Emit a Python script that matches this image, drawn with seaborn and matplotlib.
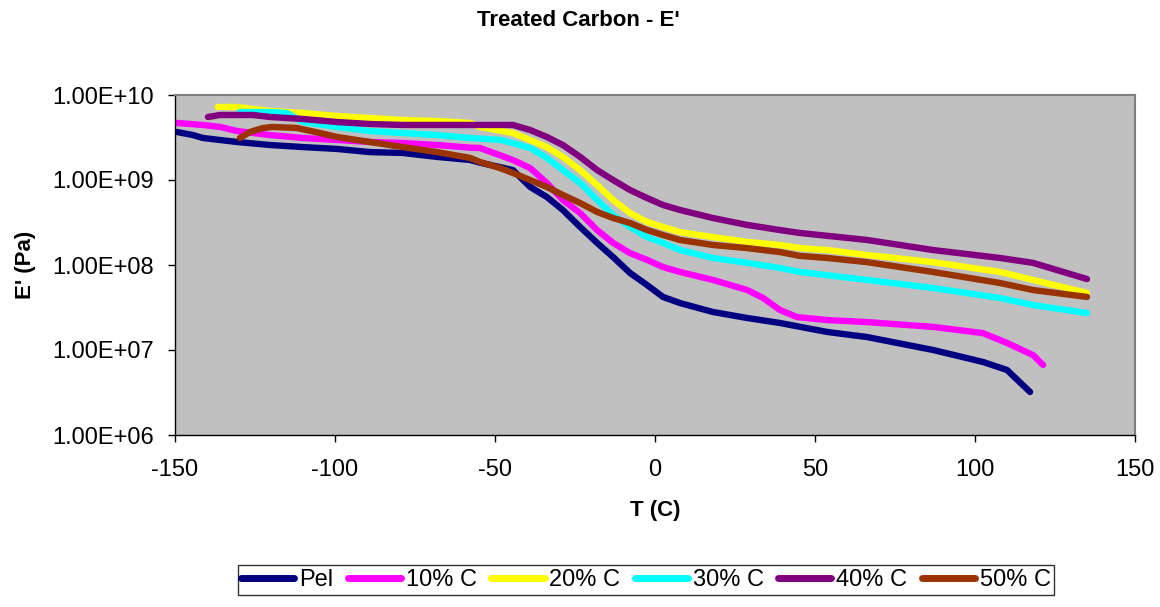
import numpy as np
import pandas as pd
import matplotlib
matplotlib.use("Agg")
import matplotlib.pyplot as plt
import seaborn as sns

series_names = ["Pel", "10% C", "20% C", "30% C", "40% C", "50% C"]
series_colors = ["#000080", "#FF00FF", "#FFFF00", "#00FFFF", "#800080", "#993300"]

pel_T = [-149.4, -144.4, -141.3, -130.6, -120.3, -110.0, -99.4, -89.1, -78.8, -68.1, -57.8,
         -54.7, -44.4, -39.0, -33.8, -28.8, -23.4, -18.1, -13.1, -7.8, -2.5, 2.5, 7.8, 18.1,
         28.8, 39.0, 53.8, 66.3, 86.9, 102.5, 110.0, 117.2]
pel_E = [3.67e9, 3.38e9, 3.12e9, 2.80e9, 2.58e9, 2.44e9, 2.32e9, 2.13e9, 2.08e9, 1.87e9, 1.72e9,
         1.60e9, 1.31e9, 8.28e8, 6.31e8, 4.44e8, 2.80e8, 1.82e8, 1.24e8, 8.05e7, 5.82e7, 4.21e7,
         3.57e7, 2.80e7, 2.38e7, 2.08e7, 1.63e7, 1.42e7, 1.00e7, 7.23e6, 5.82e6, 3.21e6]

c10_T = [-149.4, -141.3, -135.9, -130.6, -120.3, -110.0, -99.4, -89.1, -78.8, -68.1, -57.8,
         -54.7, -44.4, -39.0, -33.8, -28.8, -23.4, -18.1, -13.1, -7.8, -2.5, 2.5, 7.8, 18.1,
         28.8, 33.8, 39.0, 44.4, 53.8, 66.3, 86.9, 102.5, 110.0, 118.1, 121.3]
c10_E = [4.69e9, 4.44e9, 4.21e9, 3.77e9, 3.38e9, 3.12e9, 2.96e9, 2.80e9, 2.72e9, 2.58e9, 2.40e9,
         2.38e9, 1.72e9, 1.38e9, 9.23e8, 5.82e8, 4.09e8, 2.58e8, 1.82e8, 1.38e8, 1.15e8, 9.46e7,
         8.28e7, 6.67e7, 5.08e7, 4.09e7, 2.96e7, 2.44e7, 2.25e7, 2.13e7, 1.87e7, 1.58e7, 1.21e7,
         8.73e6, 6.67e6]

c20_T = [-136.6, -130.6, -125.6, -120.3, -110.0, -99.4, -89.1, -78.8, -68.1, -57.8, -54.7,
         -44.4, -33.8, -28.8, -23.4, -18.1, -13.1, -7.8, -2.5, 2.5, 7.8, 18.1, 28.8, 39.0, 45.3,
         53.8, 66.3, 86.9, 107.8, 118.1, 135.0]
c20_E = [7.23e9, 7.23e9, 6.84e9, 6.49e9, 6.14e9, 5.66e9, 5.36e9, 5.08e9, 4.94e9, 4.69e9, 4.21e9,
         3.57e9, 2.44e9, 1.87e9, 1.31e9, 8.73e8, 5.82e8, 4.09e8, 3.21e8, 2.80e8, 2.44e8, 2.13e8,
         1.87e8, 1.72e8, 1.58e8, 1.50e8, 1.31e8, 1.08e8, 8.28e7, 6.67e7, 4.69e7]

c30_T = [-129.7, -120.3, -115.0, -110.0, -99.4, -89.1, -78.8, -68.1, -57.8, -48.4, -44.4, -39.0,
         -33.8, -28.8, -23.4, -18.1, -13.1, -7.8, -2.5, 2.5, 7.8, 18.1, 28.8, 39.0, 45.3, 66.3,
         86.9, 107.8, 118.1, 135.0]
c30_E = [6.31e9, 6.31e9, 6.14e9, 4.81e9, 4.21e9, 3.77e9, 3.57e9, 3.38e9, 3.12e9, 2.96e9, 2.72e9,
         2.38e9, 1.82e9, 1.31e9, 9.23e8, 5.82e8, 3.87e8, 2.80e8, 2.13e8, 1.82e8, 1.50e8, 1.21e8,
         1.06e8, 9.23e7, 8.28e7, 6.67e7, 5.36e7, 4.09e7, 3.38e7, 2.72e7]

c40_T = [-139.7, -135.9, -125.6, -120.3, -110.0, -99.4, -89.1, -78.8, -68.1, -48.4, -44.4,
         -39.0, -33.8, -28.8, -23.4, -18.1, -13.1, -7.8, -2.5, 2.5, 7.8, 18.1, 28.8, 39.0, 45.3,
         66.3, 86.9, 107.8, 118.1, 135.0]
c40_E = [5.51e9, 5.82e9, 5.82e9, 5.51e9, 5.22e9, 4.81e9, 4.56e9, 4.44e9, 4.44e9, 4.44e9, 4.44e9,
         3.87e9, 3.21e9, 2.58e9, 1.87e9, 1.31e9, 1.00e9, 7.62e8, 6.14e8, 5.08e8, 4.44e8, 3.57e8,
         2.96e8, 2.58e8, 2.38e8, 1.97e8, 1.50e8, 1.21e8, 1.06e8, 6.84e7]

c50_T = [-129.7, -126.6, -122.5, -119.4, -111.9, -104.7, -99.4, -89.1, -78.8, -68.1, -57.8,
         -54.7, -48.4, -44.4, -33.8, -28.8, -23.4, -18.1, -13.1, -7.8, -2.5, 2.5, 7.8, 18.1,
         28.8, 39.0, 45.3, 53.8, 66.3, 86.9, 107.8, 118.1, 135.0]
c50_E = [3.12e9, 3.67e9, 4.09e9, 4.21e9, 4.09e9, 3.57e9, 3.21e9, 2.80e9, 2.44e9, 2.13e9, 1.82e9,
         1.63e9, 1.38e9, 1.21e9, 8.28e8, 6.67e8, 5.36e8, 4.21e8, 3.57e8, 3.12e8, 2.58e8, 2.25e8,
         1.97e8, 1.72e8, 1.58e8, 1.42e8, 1.28e8, 1.21e8, 1.08e8, 8.28e7, 6.14e7, 5.08e7, 4.21e7]

x_ticks = [-150, -100, -50, 0, 50, 100, 150]
y_ticks = [1e6, 1e7, 1e8, 1e9, 1e10]
y_tick_labels = ["1.00E+06", "1.00E+07", "1.00E+08", "1.00E+09", "1.00E+10"]

all_T = [pel_T, c10_T, c20_T, c30_T, c40_T, c50_T]
all_E = [pel_E, c10_E, c20_E, c30_E, c40_E, c50_E]
frames = []
for name, T, E in zip(series_names, all_T, all_E):
    frames.append(pd.DataFrame({"T": T, "E": E, "series": name}))
df = pd.concat(frames, ignore_index=True)

sns.set_theme(style="white")
plt.rcParams["font.family"] = ["Liberation Sans", "DejaVu Sans"]
plt.rcParams["text.color"] = "black"
plt.rcParams["axes.labelcolor"] = "black"
plt.rcParams["xtick.color"] = "black"
plt.rcParams["ytick.color"] = "black"

W, H = 1160, 607
fig = plt.figure(figsize=(W / 100, H / 100), dpi=100)
ax = fig.add_axes([175 / W, 1 - 435 / H, 960 / W, 340 / H])
ax.set_facecolor("#C0C0C0")

sns.lineplot(data=df, x="T", y="E", hue="series", hue_order=series_names,
             palette=dict(zip(series_names, series_colors)), sort=False,
             estimator=None, units="series", linewidth=4.6, ax=ax, legend=False,
             solid_capstyle="round", solid_joinstyle="round")

ax.set_yscale("log")
ax.set_xlim(-150, 150)
ax.set_ylim(1e6, 1e10)
ax.set_xticks(x_ticks)
ax.set_xticklabels([str(t) for t in x_ticks], fontsize=17, color="black")
ax.set_yticks(y_ticks)
ax.set_yticklabels(y_tick_labels, fontsize=17, color="black")
ax.yaxis.set_minor_locator(matplotlib.ticker.NullLocator())
ax.tick_params(axis="both", which="major", direction="out", length=5, width=1,
               color="black", labelcolor="black", bottom=True, left=True)
ax.tick_params(axis="x", pad=12)
ax.tick_params(axis="y", pad=10)
for side, sp in ax.spines.items():
    sp.set_color("#808080")
    sp.set_linewidth(1.5)
ax.spines["left"].set_color("black")
ax.spines["bottom"].set_color("black")
ax.spines["left"].set_linewidth(1.0)
ax.spines["bottom"].set_linewidth(1.0)

ax.set_xlabel("T (C)", fontsize=16, fontweight="bold", labelpad=14, color="black")
ax.set_ylabel("E' (Pa)", fontsize=16, fontweight="bold", labelpad=12, color="black")
fig.text(578 / W, 1 - 21 / H, "Treated Carbon - E'", ha="center", va="center",
         fontsize=16, fontweight="bold", color="black")

handles = [matplotlib.lines.Line2D([], [], color=c, linewidth=5, solid_capstyle="round")
           for c in series_colors]
leg = fig.legend(handles, series_names, loc="center", bbox_to_anchor=(646 / W, 1 - 580 / H),
                 ncol=6, fontsize=17, frameon=True, fancybox=False, handlelength=2.25,
                 handletextpad=0.2, columnspacing=0.62, borderpad=0.15, borderaxespad=0,
                 labelcolor="black")
leg.get_frame().set_edgecolor("black")
leg.get_frame().set_linewidth(1.0)

fig.savefig("out.png", dpi=100)
